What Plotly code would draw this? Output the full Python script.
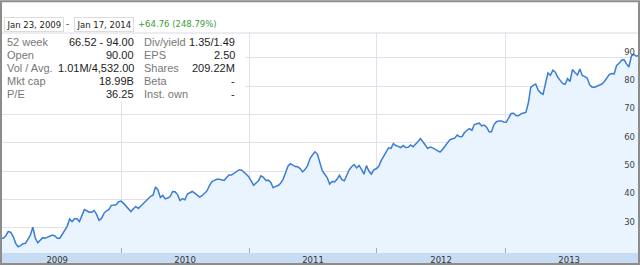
import pandas as pd
import plotly.graph_objects as go

# ---- data (weekly closes) ----
start_date = "2009-01-23"
end_date = "2014-01-17"
prices = [
    26.3, 26.3, 27.2, 28.7, 28.4, 26.9, 24.5, 23.3, 23.7, 24.4,
    24.5, 25.8, 27.4, 30.2, 26.4, 24.7, 25.6, 26.5, 26.3, 26.6,
    27.0, 27.4, 27.1, 26.3, 26.3, 27.8, 28.9, 30.5, 33.1, 32.2,
    33.2, 33.2, 32.2, 34.2, 36.4, 36.0, 35.5, 35.5, 36.1, 34.7,
    32.6, 33.3, 35.1, 36.0, 36.4, 37.9, 37.9, 38.1, 39.2, 39.4,
    38.6, 37.5, 36.7, 35.7, 36.7, 37.5, 36.8, 37.6, 38.5, 39.3,
    40.2, 41.1, 41.5, 44.4, 43.4, 40.7, 41.4, 40.2, 40.5, 41.0,
    42.8, 42.7, 41.7, 39.6, 40.3, 39.9, 41.9, 42.4, 42.8, 42.2,
    41.5, 40.8, 41.3, 42.3, 43.0, 44.9, 46.3, 46.7, 47.1, 47.1,
    47.0, 46.7, 47.7, 48.6, 48.6, 49.1, 49.7, 50.4, 50.4, 49.8,
    48.9, 48.0, 46.6, 45.0, 45.8, 46.6, 48.3, 47.8, 46.7, 46.8,
    46.0, 44.1, 44.6, 44.9, 45.7, 47.1, 49.3, 51.7, 52.6, 52.0,
    51.6, 51.5, 50.9, 49.7, 50.6, 51.9, 54.4, 55.7, 56.8, 56.0,
    53.3, 50.1, 48.9, 47.7, 45.4, 46.3, 46.2, 47.1, 48.5, 47.0,
    46.6, 48.4, 50.5, 51.5, 52.3, 51.1, 52.0, 50.6, 48.9, 51.9,
    50.0, 48.9, 50.4, 50.8, 51.7, 53.7, 55.4, 56.7, 58.2, 58.0,
    59.7, 59.0, 58.7, 58.3, 59.0, 58.3, 58.4, 59.2, 58.6, 59.4,
    60.3, 61.5, 60.5, 59.2, 58.0, 58.5, 58.2, 57.7, 57.0, 56.7,
    57.6, 58.6, 59.7, 61.0, 61.4, 61.6, 62.7, 62.1, 62.2, 63.6,
    64.4, 65.0, 64.4, 66.4, 66.7, 66.9, 65.9, 66.2, 65.5, 63.9,
    63.9, 66.4, 67.4, 67.7, 67.7, 67.3, 67.2, 68.6, 70.3, 70.4,
    69.6, 69.5, 70.2, 70.5, 70.7, 74.0, 79.5, 80.2, 80.7, 78.6,
    77.6, 77.1, 80.6, 84.6, 83.8, 85.6, 84.9, 83.1, 82.0, 80.9,
    80.6, 82.6, 81.6, 85.8, 84.8, 83.9, 86.0, 83.7, 83.3, 82.8,
    80.4, 79.6, 79.6, 79.9, 80.3, 80.7, 81.6, 83.0, 84.0, 84.4,
    84.3, 87.3, 88.0, 89.1, 89.3, 87.9, 86.7, 90.5, 91.2, 90.5,
    90.79,
]
dates = pd.date_range(start_date, end_date, freq="W-FRI")

header_from = "Jan 23, 2009"
header_to = "Jan 17, 2014"
header_change = "+64.76 (248.79%)"

stat_labels_1 = ["52 week", "Open", "Vol / Avg.", "Mkt cap", "P/E"]
stat_values_1 = ["66.52 - 94.00", "90.00", "1.01M/4,532.00", "18.99B", "36.25"]
stat_labels_2 = ["Div/yield", "EPS", "Shares", "Beta", "Inst. own"]
stat_values_2 = ["1.35/1.49", "2.50", "209.22M", "-", "-"]

y_ticks = [30, 40, 50, 60, 70, 80, 90]

# ---- layout helpers (pixel -> paper) ----
W, H = 640, 267
ML, MR, MT, MB = 2, 2, 33, 12
PW, PH = W - ML - MR, H - MT - MB


def px(x):
    return (x - ML) / PW


def py(y):
    return (H - MB - y) / PH


fig = go.Figure()
fig.add_trace(go.Scatter(
    x=dates, y=prices, mode="lines",
    line=dict(color="#3b7dd4", width=1.5),
    fill="tozeroy", fillcolor="#eaf4fe",
    hoverinfo="skip",
))

shapes = []
# bottom band
shapes.append(dict(type="rect", xref="paper", yref="paper",
                   x0=px(0), x1=px(640), y0=py(266), y1=py(255),
                   fillcolor="#c7dcf3", line=dict(width=0), layer="below"))
# stats table white cover
shapes.append(dict(type="rect", xref="paper", yref="paper",
                   x0=px(0), x1=px(245.5), y0=py(103), y1=py(34),
                   fillcolor="white", line=dict(width=0), layer="above"))
# header separator line
shapes.append(dict(type="line", xref="paper", yref="paper",
                   x0=px(0), x1=px(640), y0=py(33), y1=py(33),
                   line=dict(color="#d9d9e6", width=1)))
# outer frame
shapes.append(dict(type="rect", xref="paper", yref="paper",
                   x0=px(1), x1=px(639), y0=py(266), y1=py(1),
                   fillcolor="rgba(0,0,0,0)", line=dict(color="#8c8c8c", width=2)))

ann = []
hfont = dict(family="DejaVu Sans", size=8.5, color="#222")
ann.append(dict(text=header_from, x=px(3.5), y=py(24), xref="paper", yref="paper",
                xanchor="left", yanchor="middle", showarrow=False, font=hfont,
                bordercolor="#dcdcdc", borderwidth=1, borderpad=1.5, bgcolor="white"))
ann.append(dict(text="-", x=px(67), y=py(24), xref="paper", yref="paper",
                xanchor="center", yanchor="middle", showarrow=False, font=hfont))
ann.append(dict(text=header_to, x=px(73.5), y=py(24), xref="paper", yref="paper",
                xanchor="left", yanchor="middle", showarrow=False, font=hfont,
                bordercolor="#dcdcdc", borderwidth=1, borderpad=1.5, bgcolor="white"))
ann.append(dict(text=header_change, x=px(135.5), y=py(24), xref="paper", yref="paper",
                xanchor="left", yanchor="middle", showarrow=False,
                font=dict(family="DejaVu Sans", size=8.5, color="#3c9a3c")))

lab_font = dict(family="Liberation Sans, Arial", size=11, color="#777")
val_font = dict(family="Liberation Sans, Arial", size=11, color="#222")
row_y = [42.5, 55.5, 68.5, 81.5, 94.5]
for i in range(5):
    ann.append(dict(text=stat_labels_1[i], x=px(5), y=py(row_y[i]), xref="paper", yref="paper",
                    xanchor="left", yanchor="middle", showarrow=False, font=lab_font))
    ann.append(dict(text=stat_values_1[i], x=px(135.5), y=py(row_y[i]), xref="paper", yref="paper",
                    xanchor="right", yanchor="middle", showarrow=False, font=val_font))
    ann.append(dict(text=stat_labels_2[i], x=px(142), y=py(row_y[i]), xref="paper", yref="paper",
                    xanchor="left", yanchor="middle", showarrow=False, font=lab_font))
    ann.append(dict(text=stat_values_2[i], x=px(237), y=py(row_y[i]), xref="paper", yref="paper",
                    xanchor="right", yanchor="middle", showarrow=False, font=val_font))

fig.update_layout(
    width=W, height=H,
    margin=dict(l=ML, r=MR, t=MT, b=MB, pad=0),
    paper_bgcolor="white", plot_bgcolor="white",
    showlegend=False, hovermode=False,
    shapes=shapes, annotations=ann,
    xaxis=dict(
        type="date", range=["2009-01-26", "2014-01-15"],
        tick0="2009-01-01", dtick="M12", tickformat="%Y",
        ticklabelmode="period",
        showgrid=True, gridcolor="#e0e0ee", gridwidth=1,
        ticks="inside", ticklen=5, tickcolor="#aaaaaa",
        tickfont=dict(family="DejaVu Sans", size=8.5, color="#333"),
        showline=False, zeroline=False, fixedrange=True,
    ),
    yaxis=dict(
        range=[21.1, 98.7], side="right",
        tickvals=y_ticks, ticktext=[str(v) for v in y_ticks],
        ticklabelposition="inside top",
        showgrid=True, gridcolor="#e0e0ee", gridwidth=1,
        tickfont=dict(family="DejaVu Sans", size=8.5, color="#444"),
        showline=False, zeroline=False, ticks="", fixedrange=True,
    ),
)

fig.write_html("out.html")
